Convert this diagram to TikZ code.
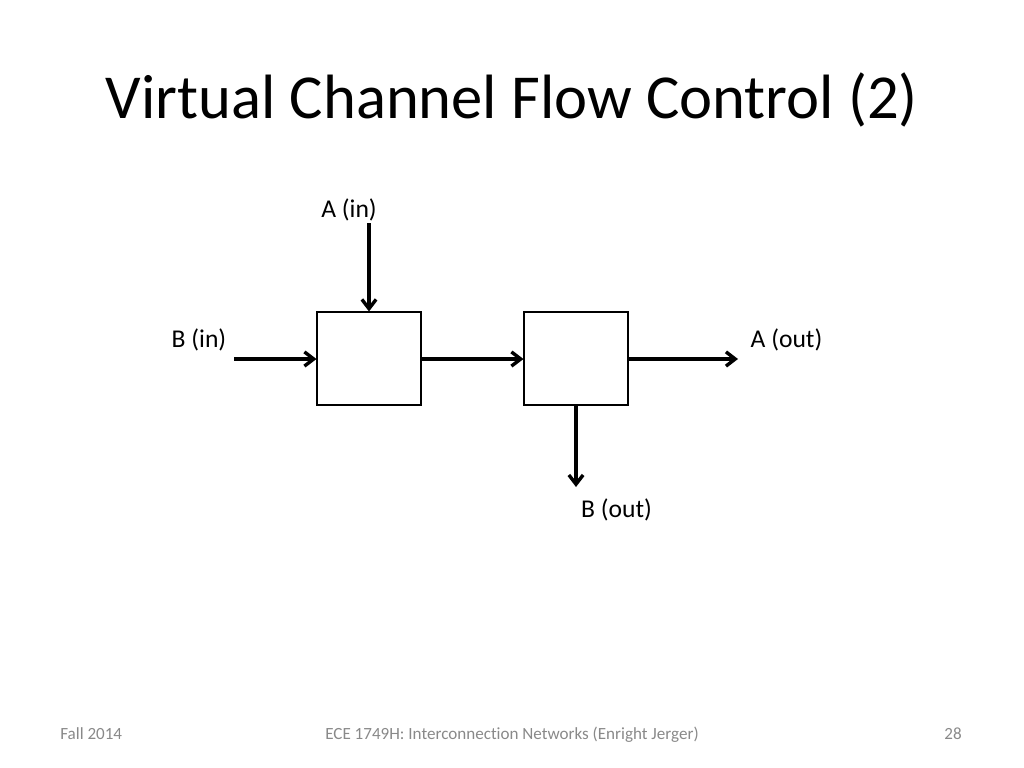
\documentclass[tikz,border=0pt]{standalone}
\usepackage{fontspec}
\setmainfont{Carlito}[Ligatures=CommonOff]
\usetikzlibrary{arrows.meta}
\definecolor{footgray}{HTML}{898989}
\tikzset{
  router/.style={draw, line width=0.75pt, minimum width=73.1pt, minimum height=65.4pt, inner sep=0pt},
  flow/.style={line width=2.4pt, -{Straight Barb[length=6.5pt,width=10pt]}},
  lbl/.style={font=\fontsize{18}{21}\selectfont, inner sep=0pt, anchor=base},
  foot/.style={font=\fontsize{12}{14}\selectfont, text=footgray, inner sep=0pt, anchor=base}
}
\begin{document}
\begin{tikzpicture}[x=0.703pt, y=-0.703pt]
\useasboundingbox (0,0) rectangle (1024,768);
\node [font=\fontsize{44}{50}\selectfont, inner sep=0pt, anchor=base] (title) at (512,118) {Virtual Channel Flow Control (2)};

\node [router] (r1) at (369,358.5) {};
\node [router] (r2) at (576,358.5) {};

\coordinate (ain) at (369,223);
\coordinate (bin) at (234,359);
\coordinate (aout) at (738,359);
\coordinate (bout) at (576,487);

\draw [flow] (ain) -- (r1.north);
\draw [flow] (bin) -- (bin -| r1.west);
\draw [flow] (r1.east |- bin) -- (bin -| r2.west);
\draw [flow] (r2.east |- aout) -- (aout);
\draw [flow] (r2.south) -- (bout);

\node [lbl] (lain) at (349,217) {A (in)};
\node [lbl] (lbin) at (199,347) {B (in)};
\node [lbl] (laout) at (786.5,347) {A (out)};
\node [lbl] (lbout) at (616.5,517) {B (out)};

\node [foot, anchor=base west] (date) at (60,739) {Fall 2014};
\node [foot] (course) at (512,739) {ECE 1749H: Interconnection Networks (Enright Jerger)};
\node [foot, anchor=base east] (page) at (962,739) {28};
\end{tikzpicture}
\end{document}
